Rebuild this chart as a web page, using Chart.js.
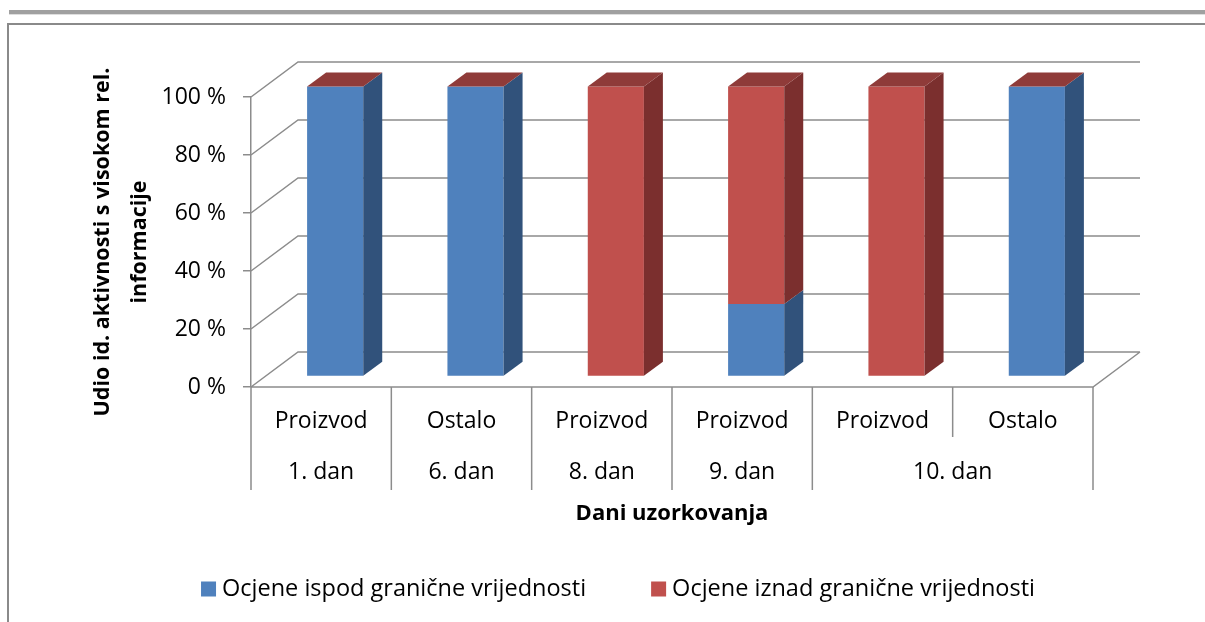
<!DOCTYPE html>
<html>
<head>
<meta charset="utf-8">
<title>Dani uzorkovanja</title>
<script src="https://cdn.jsdelivr.net/npm/chart.js@4.4.1/dist/chart.umd.min.js"></script>
<style>
  body { margin: 0; background: #fff; }
  canvas { display: block; }
</style>
</head>
<body>
<canvas id="chart" width="1205" height="622"></canvas>
<script>
// categories along the floor, grouped by sampling day
const categories = ['Proizvod', 'Ostalo', 'Proizvod', 'Proizvod', 'Proizvod', 'Ostalo'];
const dayLabels = ['1. dan', '6. dan', '8. dan', '9. dan', '10. dan'];
const daySpans = [1, 1, 1, 1, 2];

// share of activities (%)
const belowLimit = [100, 100, 0, 25, 0, 100];
const aboveLimit = [0, 0, 100, 75, 100, 0];
const seriesNames = ['Ocjene ispod granične vrijednosti', 'Ocjene iznad granične vrijednosti'];

const yTicks = [0, 20, 40, 60, 80, 100];
const yTitle = ['Udio id. aktivnosti s visokom rel.', 'informacije'];
const xTitle = 'Dani uzorkovanja';

const FONT = '"Open Sans", "Noto Sans", sans-serif';
const GRID = '#8c8c8c';
const WALL = { dx: 47, dy: -35 };                  // depth of the back wall
const BAR = { ox: 14, oy: -10.5, dx: 19, dy: -14 }; // bar offset into the floor + bar depth
const sideColors = ['#31527b', '#7b2f2e'];
const topColor = '#8f3b39';

Chart.defaults.font.family = FONT;
Chart.defaults.color = '#000';

const box3d = {
  id: 'box3d',
  beforeDraw(chart) {
    const c = chart.ctx;
    c.save();
    c.fillStyle = '#fff';
    c.fillRect(0, 0, chart.width, chart.height);
    c.fillStyle = '#a0a0a0';
    c.fillRect(9, 10, chart.width - 9, 4);
    c.fillStyle = '#dedede';
    c.fillRect(9, 14, chart.width - 9, 1);
    c.strokeStyle = '#8a8a8a';
    c.lineWidth = 2;
    c.beginPath();
    c.moveTo(8, chart.height);
    c.lineTo(8, 24);
    c.lineTo(chart.width, 24);
    c.stroke();
    c.restore();
  },
  beforeDatasetsDraw(chart) {
    const c = chart.ctx, a = chart.chartArea, y = chart.scales.y;
    c.save();
    c.strokeStyle = GRID;
    c.lineWidth = 1.5;
    c.beginPath();
    // side wall diagonals + back wall gridlines
    y.ticks.forEach(t => {
      const py = y.getPixelForValue(t.value);
      c.moveTo(a.left, py);
      c.lineTo(a.left + WALL.dx, py + WALL.dy);
      c.lineTo(a.right + WALL.dx, py + WALL.dy);
    });
    // floor: front edge and right edge
    c.moveTo(a.left, a.bottom);
    c.lineTo(a.right, a.bottom);
    c.lineTo(a.right + WALL.dx, a.bottom + WALL.dy);
    c.stroke();
    c.restore();
    // front faces sit in the middle of the floor depth
    c.save();
    c.translate(BAR.ox, BAR.oy);
  },
  afterDatasetsDraw(chart) {
    const c = chart.ctx;
    c.restore();
    const metas = chart.getSortedVisibleDatasetMetas();
    c.save();
    metas.forEach((meta, d) => {
      const isTop = d === metas.length - 1;
      meta.data.forEach(el => {
        const { x, y, base, width } = el.getProps(['x', 'y', 'base', 'width'], true);
        const l = x - width / 2 + BAR.ox, r = x + width / 2 + BAR.ox;
        const top = y + BAR.oy, bot = base + BAR.oy;
        if (bot - top > 0.5) {
          c.fillStyle = sideColors[d];
          c.beginPath();
          c.moveTo(r, top);
          c.lineTo(r + BAR.dx, top + BAR.dy);
          c.lineTo(r + BAR.dx, bot + BAR.dy);
          c.lineTo(r, bot);
          c.closePath();
          c.fill();
        }
        if (isTop) {
          c.fillStyle = topColor;
          c.beginPath();
          c.moveTo(l, top);
          c.lineTo(r, top);
          c.lineTo(r + BAR.dx, top + BAR.dy);
          c.lineTo(l + BAR.dx, top + BAR.dy);
          c.closePath();
          c.fill();
        }
      });
    });
    c.restore();
  },
  afterDraw(chart) {
    const c = chart.ctx, a = chart.chartArea, x = chart.scales.x;
    const step = x.getPixelForValue(1) - x.getPixelForValue(0);
    c.save();

    // category separators: long ones between days, short ones inside a day
    const dayEdges = [0];
    daySpans.forEach(s => dayEdges.push(dayEdges[dayEdges.length - 1] + s));
    c.strokeStyle = GRID;
    c.lineWidth = 1.5;
    c.beginPath();
    for (let j = 0; j <= categories.length; j++) {
      const px = x.getPixelForValue(0) - step / 2 + j * step;
      const len = dayEdges.includes(j) ? 103 : 50;
      c.moveTo(px, a.bottom);
      c.lineTo(px, a.bottom + len);
    }
    c.stroke();

    c.fillStyle = '#000';
    c.textAlign = 'center';
    c.textBaseline = 'middle';
    c.font = '23px ' + FONT;
    categories.forEach((lab, i) => c.fillText(lab, x.getPixelForValue(i), a.bottom + 34));
    let i0 = 0;
    dayLabels.forEach((lab, k) => {
      const left = x.getPixelForValue(i0) - step / 2;
      const right = x.getPixelForValue(i0 + daySpans[k] - 1) + step / 2;
      c.fillText(lab, (left + right) / 2, a.bottom + 85);
      i0 += daySpans[k];
    });
    c.font = 'bold 22px ' + FONT;
    c.fillText(xTitle, (a.left + a.right) / 2, a.bottom + 127);

    // legend
    c.font = '23.5px ' + FONT;
    const ds = chart.data.datasets;
    const box = 15, gap = 6, itemGap = 65;
    const widths = ds.map(d => c.measureText(d.label).width);
    const total = widths.reduce((s, w) => s + w + box + gap, 0) + itemGap * (ds.length - 1);
    let lx = 618 - total / 2;
    const ly = 589;
    c.textAlign = 'left';
    ds.forEach((d, i) => {
      c.fillStyle = d.backgroundColor;
      c.fillRect(lx, ly - box / 2, box, box);
      c.fillStyle = '#000';
      c.fillText(d.label, lx + box + gap, ly);
      lx += box + gap + widths[i] + itemGap;
    });
    c.restore();
  }
};

new Chart(document.getElementById('chart'), {
  type: 'bar',
  data: {
    labels: categories,
    datasets: [
      { label: seriesNames[0], data: belowLimit, backgroundColor: '#4f81bd' },
      { label: seriesNames[1], data: aboveLimit, backgroundColor: '#c0504d' }
    ]
  },
  options: {
    responsive: false,
    animation: false,
    devicePixelRatio: 1,
    layout: { padding: { left: 85, top: 97, right: 112, bottom: 235 } },
    datasets: {
      bar: { barPercentage: 0.5, categoryPercentage: 0.8, borderWidth: 0, clip: false }
    },
    plugins: {
      legend: { display: false },
      tooltip: { enabled: false }
    },
    scales: {
      x: { stacked: true, display: false },
      y: {
        stacked: true,
        min: 0,
        max: 100,
        afterBuildTicks: s => { s.ticks = yTicks.map(v => ({ value: v })); },
        afterFit: s => { s.width = 166; },
        ticks: {
          padding: 17,
          font: { size: 23 },
          callback: v => v + ' %'
        },
        grid: { drawOnChartArea: false, drawTicks: true, tickLength: 8, color: GRID, lineWidth: 1.5 },
        border: { display: true, color: GRID, width: 1.5 },
        title: {
          display: true,
          text: yTitle,
          font: { size: 21.5, weight: 'bold', lineHeight: 1.7 },
          padding: { top: 0, bottom: 0 }
        }
      }
    }
  },
  plugins: [box3d]
});
</script>
</body>
</html>
